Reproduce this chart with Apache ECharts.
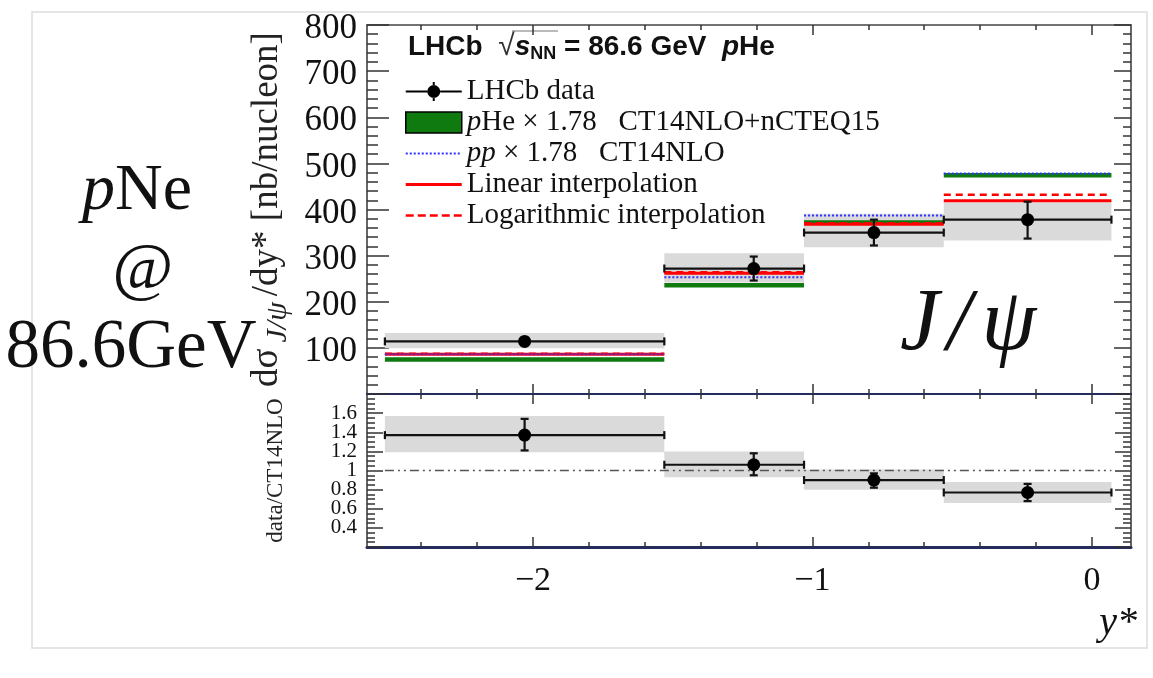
<!DOCTYPE html>
<html><head><meta charset="utf-8">
<script src="https://cdn.jsdelivr.net/npm/echarts@6/dist/echarts.min.js"></script>
<style>html,body{margin:0;padding:0;background:#fff}#c{width:1153px;height:678px}</style>
</head><body><div id="c"></div>
<script>
// ---- data ----
const binLo = [-2.53, -1.53, -1.03, -0.53];
const binHi = [-1.53, -1.03, -0.53, 0.07];
const yMean = [-2.03, -1.21, -0.78, -0.23];
const dataVal = [114, 272, 350, 378];
const statLo = [106, 246, 322, 337];
const statHi = [122, 298, 378, 417];
const sysLo = [99, 242, 318, 333];
const sysHi = [132, 305, 391, 415];
const pHe = [75, 236, 372, 474];
const pp = [86, 253, 387, 478];
const linear = [86, 262, 368, 419];
const logInt = [87, 264, 370, 432];
const ratio = [1.37, 1.06, 0.90, 0.77];
const ratioStatLo = [1.21, 0.95, 0.82, 0.68];
const ratioStatHi = [1.54, 1.18, 0.97, 0.86];
const ratioSysLo = [1.19, 0.93, 0.80, 0.66];
const ratioSysHi = [1.57, 1.20, 1.01, 0.88];
const xMajorTicks = [-2, -1, 0];
const xMinorTicks = [-2.4, -2.2, -1.8, -1.6, -1.4, -1.2, -0.8, -0.6, -0.4, -0.2];
const xMin = -2.594, xMax = 0.14;

const SERIF = 'Liberation Serif';
const nData = 'LHCb data';
const nPHe = 'pHe × 1.78 CT14NLO+nCTEQ15';
const nPP = 'pp × 1.78 CT14NLO';
const nLin = 'Linear interpolation';
const nLog = 'Logarithmic interpolation';

// legend icon geometry (56 x 21 box, corner specks fix the bounding box)
const BOX = 'M0,0h0.1v0.1h-0.1z M55.9,20.9h0.1v0.1h-0.1z ';
function dottedIcon() { let p = BOX; for (let x = 0; x < 56; x += 4) p += 'M' + x + ',9.5h2v2h-2z '; return 'path://' + p; }
function dashedIcon() { let p = BOX; for (let x = 0; x < 56; x += 12) p += 'M' + x + ',9.25h8v2.5h-8z '; return 'path://' + p; }
const solidIcon = 'path://' + BOX + 'M0,9h56v3h-56z';
const dataIcon = 'path://' + BOX + 'M0,9.5H21.5V11.5H0z M34.5,9.5H56V11.5H34.5z M21.5,10.5a6.5,6.5 0 1,0 13,0a6.5,6.5 0 1,0 -13,0z M27,1h2v3.2h-2z M27,16.8h2v3.2h-2z';

function steps(vals) {
  const out = [];
  vals.forEach((v, i) => { out.push([binLo[i], v], [binHi[i], v], [binHi[i], '-']); });
  return out;
}
function renderBand(params, api) {
  const p1 = api.coord([api.value(0), api.value(3)]);
  const p2 = api.coord([api.value(1), api.value(2)]);
  return { type: 'rect', shape: { x: p1[0], y: p1[1], width: p2[0] - p1[0], height: p2[1] - p1[1] },
           style: { fill: '#dadada' } };
}
function renderPoints(params, api) {
  const xm = api.value(0), v = api.value(1), lo = api.value(2), hi = api.value(3), b0 = api.value(4), b1 = api.value(5);
  const L = api.coord([b0, v]), R = api.coord([b1, v]), C = api.coord([xm, v]);
  const Lo = api.coord([xm, lo]), Hi = api.coord([xm, hi]);
  const st = { stroke: '#111', lineWidth: 2.2 };
  const c = 4;
  return { type: 'group', children: [
    { type: 'line', shape: { x1: L[0], y1: L[1], x2: R[0], y2: R[1] }, style: st },
    { type: 'line', shape: { x1: L[0], y1: L[1] - c, x2: L[0], y2: L[1] + c }, style: st },
    { type: 'line', shape: { x1: R[0], y1: R[1] - c, x2: R[0], y2: R[1] + c }, style: st },
    { type: 'line', shape: { x1: Lo[0], y1: Lo[1], x2: Hi[0], y2: Hi[1] }, style: st },
    { type: 'line', shape: { x1: Lo[0] - c, y1: Lo[1], x2: Lo[0] + c, y2: Lo[1] }, style: st },
    { type: 'line', shape: { x1: Hi[0] - c, y1: Hi[1], x2: Hi[0] + c, y2: Hi[1] }, style: st },
    { type: 'circle', shape: { cx: C[0], cy: C[1], r: 6.5 }, style: { fill: '#000' } }
  ] };
}

const tickStyle = { color: '#333', width: 1.5 };
function xAx(grid, pos, major, lineStyle, extra) {
  return Object.assign({
    gridIndex: grid, type: 'value', min: xMin, max: xMax, position: pos,
    axisLine: lineStyle ? { show: true, onZero: false, lineStyle: lineStyle } : { show: false, onZero: false },
    axisTick: { show: true, inside: true, length: major ? 10 : 5, customValues: major ? xMajorTicks : xMinorTicks, lineStyle: tickStyle },
    axisLabel: { show: false }, splitLine: { show: false }
  }, extra || {});
}
function yAx(grid, pos, min, max, interval, split, majLen, minLen, extra) {
  return Object.assign({
    gridIndex: grid, type: 'value', min: min, max: max, interval: interval, position: pos,
    axisLine: { show: true, onZero: false, lineStyle: { color: '#333', width: 1.5 } },
    axisTick: { show: true, inside: true, length: majLen, lineStyle: tickStyle },
    minorTick: { show: true, splitNumber: split, length: minLen, lineStyle: tickStyle },
    axisLabel: { show: false }, splitLine: { show: false }, minorSplitLine: { show: false }
  }, extra || {});
}
function modelLine(name, vals, color, width, type, z) {
  return { type: 'line', name: name, xAxisIndex: 0, yAxisIndex: 0, symbol: 'none', showSymbol: false,
    connectNulls: false, z: z, color: color, itemStyle: { color: color, borderWidth: 0 },
    lineStyle: { color: color, width: width, type: type }, data: steps(vals) };
}

const chart = echarts.init(document.getElementById('c'), null, { renderer: 'canvas' });
const option = {
  animation: false,
  backgroundColor: '#fff',
  grid: [
    { left: 367, right: 22, top: 25, height: 369 },
    { left: 367, right: 22, top: 394, height: 153 }
  ],
  xAxis: [
    xAx(0, 'bottom', true, { color: '#262b5e', width: 2 }),
    xAx(0, 'bottom', false, null),
    xAx(0, 'top', true, { color: '#444', width: 1.5 }),
    xAx(0, 'top', false, null),
    xAx(1, 'bottom', true, { color: '#262b5e', width: 3 }, {
      axisLabel: { show: true, customValues: xMajorTicks, fontFamily: SERIF, fontSize: 34, color: '#111', margin: 17,
                   formatter: v => (v < 0 ? '\u2212' + Math.abs(v) : String(v)) },
      name: 'y*', nameLocation: 'end', nameGap: 6,
      nameTextStyle: { fontFamily: SERIF, fontStyle: 'italic', fontSize: 40, color: '#111', align: 'right', verticalAlign: 'top', padding: [56, 0, 0, 0] }
    }),
    xAx(1, 'bottom', false, null),
    xAx(1, 'top', true, { color: '#262b5e', width: 2 }),
    xAx(1, 'top', false, null)
  ],
  yAxis: [
    yAx(0, 'left', 0, 800, 100, 5, 22, 11, {
      axisLabel: { show: true, fontFamily: SERIF, fontSize: 35, color: '#111', margin: 10, showMinLabel: false,
                   formatter: v => '{t|' + v + '}',
                   rich: { t: { fontFamily: SERIF, fontSize: 35, color: '#111', padding: [8, 0, 0, 0] } } },
      name: 'dσ{sub|J/ψ}/dy* [nb/nucleon]', nameLocation: 'middle', nameRotate: 90, nameGap: 66,
      nameTextStyle: { fontFamily: SERIF, fontSize: 37, color: '#222',
        rich: { sub: { fontFamily: SERIF, fontStyle: 'italic', fontSize: 30, color: '#222', padding: [22, 6, 0, 6] } } }
    }),
    yAx(0, 'right', 0, 800, 100, 5, 17, 8),
    yAx(1, 'left', 0.2, 1.8, 0.2, 4, 16, 8, {
      axisLabel: { show: true, fontFamily: SERIF, fontSize: 21, color: '#111', margin: 10, showMinLabel: false, showMaxLabel: false },
      name: 'data/CT14NLO', nameLocation: 'middle', nameRotate: 90, nameGap: 80,
      nameTextStyle: { fontFamily: SERIF, fontSize: 23, color: '#222' }
    }),
    yAx(1, 'right', 0.2, 1.8, 0.2, 4, 16, 8)
  ],
  legend: {
    orient: 'vertical', left: 405, top: 76, padding: 0, itemGap: 0, itemWidth: 56, itemHeight: 21,
    selectedMode: false,
    textStyle: { fontFamily: SERIF, fontSize: 29, color: '#111', lineHeight: 31,
      rich: { it: { fontFamily: SERIF, fontSize: 29, fontStyle: 'italic', color: '#111' } } },
    formatter: function (name) {
      if (name === nPHe) return '{it|p}He × 1.78   CT14NLO+nCTEQ15';
      if (name === nPP) return '{it|pp} × 1.78   CT14NLO';
      return name;
    },
    data: [
      { name: nData, icon: dataIcon },
      { name: nPHe, icon: 'rect', itemStyle: { color: '#0f7a0f', borderColor: '#000', borderWidth: 1.5 } },
      { name: nPP, icon: dottedIcon(), itemStyle: { color: '#3030ff', borderWidth: 0 } },
      { name: nLin, icon: solidIcon, itemStyle: { color: '#ff0000', borderWidth: 0 } },
      { name: nLog, icon: dashedIcon(), itemStyle: { color: '#ff0000', borderWidth: 0 } }
    ]
  },
  series: [
    { type: 'custom', name: 'syst', xAxisIndex: 0, yAxisIndex: 0, silent: true, z: 1,
      renderItem: renderBand, encode: { x: [0, 1], y: [2, 3] },
      data: binLo.map((b, i) => [b, binHi[i], sysLo[i], sysHi[i]]) },
    modelLine(nPHe, pHe, '#0f7a0f', 4.5, 'solid', 2),
    modelLine(nPP, pp, '#3030ff', 2, 'dotted', 4),
    modelLine(nLin, linear, '#ff0000', 3, 'solid', 3),
    modelLine(nLog, logInt, '#ff0000', 2.5, [7, 5], 3),
    { type: 'custom', name: nData, xAxisIndex: 0, yAxisIndex: 0, z: 10, itemStyle: { color: '#000' },
      renderItem: renderPoints, encode: { x: [0, 4, 5], y: [1, 2, 3] },
      data: yMean.map((x, i) => [x, dataVal[i], statLo[i], statHi[i], binLo[i], binHi[i]]) },
    { type: 'custom', name: 'ratio syst', xAxisIndex: 4, yAxisIndex: 2, silent: true, z: 1,
      renderItem: renderBand, encode: { x: [0, 1], y: [2, 3] },
      data: binLo.map((b, i) => [b, binHi[i], ratioSysLo[i], ratioSysHi[i]]) },
    { type: 'line', name: 'unity', xAxisIndex: 4, yAxisIndex: 2, symbol: 'none', silent: true, z: 2,
      lineStyle: { color: '#555', width: 1.5, type: [9, 4, 2, 4, 2, 4] },
      data: [[binLo[0], 1], [binHi[binHi.length - 1], 1]] },
    { type: 'custom', name: 'LHCb data / CT14NLO', xAxisIndex: 4, yAxisIndex: 2, z: 10, itemStyle: { color: '#000' },
      renderItem: renderPoints, encode: { x: [0, 4, 5], y: [1, 2, 3] },
      data: yMean.map((x, i) => [x, ratio[i], ratioStatLo[i], ratioStatHi[i], binLo[i], binHi[i]]) }
  ],
  graphic: [
    { type: 'rect', z: -10, silent: true, shape: { x: 32, y: 12, width: 1115, height: 636 },
      style: { fill: 'none', stroke: '#dddddd', lineWidth: 1.5 } },
    { type: 'text', x: 137, y: 192, silent: true,
      style: { text: '{i|p}Ne', align: 'center', verticalAlign: 'middle', font: '66px "Liberation Serif"', fill: '#111',
               rich: { i: { fontFamily: SERIF, fontSize: 66, fontStyle: 'italic', fill: '#111' } } } },
    { type: 'text', x: 143, y: 271, silent: true,
      style: { text: '@', align: 'center', verticalAlign: 'middle', font: '66px "Liberation Serif"', fill: '#111' } },
    { type: 'text', x: 131, y: 349, silent: true,
      style: { text: '86.6GeV', align: 'center', verticalAlign: 'middle', font: '69px "Liberation Serif"', fill: '#111' } },
    { type: 'text', x: 408, y: 47, silent: true,
      style: { text: '{b|LHCb}  {r|√}{s|s}{n|NN}{b| = 86.6 GeV  }{s|p}{b|He}', align: 'left', verticalAlign: 'middle',
        font: 'bold 28px "Liberation Sans"', fill: '#111',
        rich: {
          b: { fontFamily: 'Liberation Sans', fontWeight: 'bold', fontSize: 28, fill: '#111', verticalAlign: 'middle' },
          r: { fontFamily: 'Liberation Sans', fontSize: 30, fill: '#333', verticalAlign: 'middle' },
          s: { fontFamily: 'Liberation Sans', fontWeight: 'bold', fontStyle: 'italic', fontSize: 28, fill: '#111', verticalAlign: 'middle' },
          n: { fontFamily: 'Liberation Sans', fontWeight: 'bold', fontSize: 18, fill: '#111', verticalAlign: 'middle', padding: [14, 0, 0, 0] }
        } } },
    { type: 'line', silent: true, shape: { x1: 512, y1: 31, x2: 558, y2: 31 }, style: { stroke: '#777', lineWidth: 1.2 } },
    { type: 'text', x: 900, y: 326, silent: true,
      style: { text: '{a|J}{b|/}{c|ψ}', align: 'left', verticalAlign: 'middle', font: 'italic 88px "Liberation Serif"', fill: '#111',
        rich: {
          a: { fontFamily: SERIF, fontStyle: 'italic', fontSize: 88, fill: '#111' },
          b: { fontFamily: SERIF, fontStyle: 'italic', fontSize: 88, fill: '#111', padding: [0, 0, 0, 8] },
          c: { fontFamily: SERIF, fontStyle: 'italic', fontSize: 88, fill: '#111', padding: [0, 0, 0, 10] }
        } } }
  ]
};
chart.setOption(option);
</script>
</body></html>
